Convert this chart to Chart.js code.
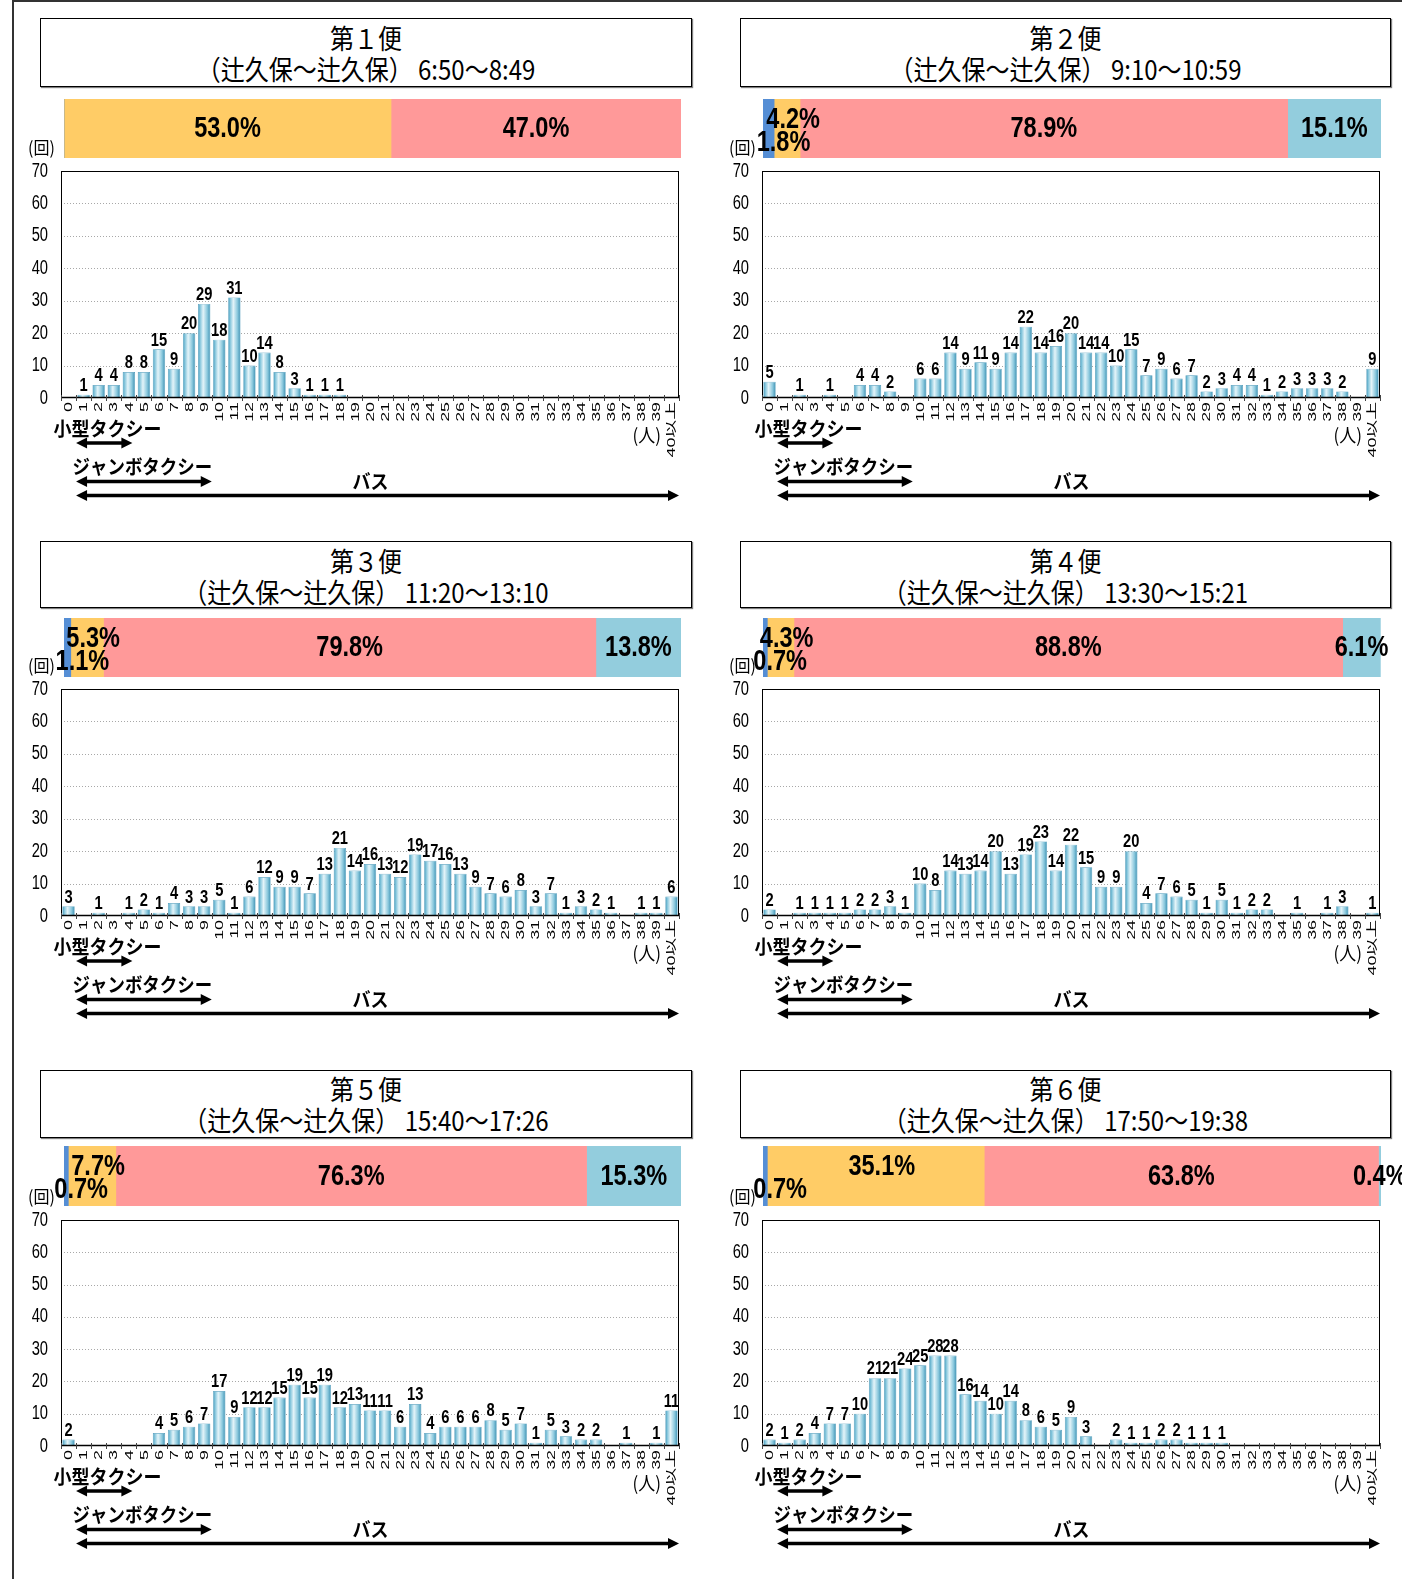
<!DOCTYPE html>
<html lang="ja">
<head>
<meta charset="utf-8">
<title>便別 乗車人数の分布</title>
<script src="https://cdn.jsdelivr.net/npm/chart.js@4.4.1/dist/chart.umd.min.js"></script>
<style>
html,body{margin:0;padding:0;background:#fff;overflow:hidden;}
body{width:1402px;height:1579px;position:relative;}
.frame{position:absolute;left:12px;top:0;width:1400px;height:1600px;border-left:2px solid #333;border-top:2px solid #333;}
.title{position:absolute;border:1px solid #000;box-shadow:1px 1px 1px rgba(0,0,0,.5);background:#fff;box-sizing:border-box;
  font-family:"Noto Sans CJK JP","Noto Sans CJK SC",sans-serif;font-size:24px;color:#000;}
.title .l{position:absolute;left:0;right:0;text-align:center;white-space:nowrap;line-height:24px;height:24px;transform:scaleY(1.15);}
canvas{position:absolute;}
</style>
</head>
<body>
<div class="frame"></div>
<script>
// 乗車人数の階級（人）
const AGE_LABELS = ['0','1','2','3','4','5','6','7','8','9','10','11','12','13','14','15','16','17','18','19',
  '20','21','22','23','24','25','26','27','28','29','30','31','32','33','34','35','36','37','38','39','40以上'];
const Y_TICKS = [0, 10, 20, 30, 40, 50, 60, 70];

// 便ごとの見出し
const TRIP_NAMES = ['第１便', '第２便', '第３便', '第４便', '第５便', '第６便'];
const TRIP_ROUTES = [
  '（辻久保～辻久保） 6:50～8:49',
  '（辻久保～辻久保） 9:10～10:59',
  '（辻久保～辻久保） 11:20～13:10',
  '（辻久保～辻久保） 13:30～15:21',
  '（辻久保～辻久保） 15:40～17:26',
  '（辻久保～辻久保） 17:50～19:38'
];

// 乗車人数別の運行回数（回）
const RIDERS_1 = [0,1,4,4,8,8,15,9,20,29,18,31,10,14,8,3,1,1,1,0,0,0,0,0,0,0,0,0,0,0,0,0,0,0,0,0,0,0,0,0,0];
const RIDERS_2 = [5,0,1,0,1,0,4,4,2,0,6,6,14,9,11,9,14,22,14,16,20,14,14,10,15,7,9,6,7,2,3,4,4,1,2,3,3,3,2,0,9];
const RIDERS_3 = [3,0,1,0,1,2,1,4,3,3,5,1,6,12,9,9,7,13,21,14,16,13,12,19,17,16,13,9,7,6,8,3,7,1,3,2,1,0,1,1,6];
const RIDERS_4 = [2,0,1,1,1,1,2,2,3,1,10,8,14,13,14,20,13,19,23,14,22,15,9,9,20,4,7,6,5,1,5,1,2,2,0,1,0,1,3,0,1];
const RIDERS_5 = [2,0,0,0,0,0,4,5,6,7,17,9,12,12,15,19,15,19,12,13,11,11,6,13,4,6,6,6,8,5,7,1,5,3,2,2,0,1,0,1,11];
const RIDERS_6 = [2,1,2,4,7,7,10,21,21,24,25,28,28,16,14,10,14,8,6,5,9,3,0,2,1,1,2,2,1,1,1,0,0,0,0,0,0,0,0,0,0];

// 構成比（％）：青・黄・赤・水色の順
const SHARE_1 = [0, 53.0, 47.0, 0];
const SHARE_2 = [1.8, 4.2, 78.9, 15.1];
const SHARE_3 = [1.1, 5.3, 79.8, 13.8];
const SHARE_4 = [0.7, 4.3, 88.8, 6.1];
const SHARE_5 = [0.7, 7.7, 76.3, 15.3];
const SHARE_6 = [0.7, 35.1, 63.8, 0.4];
const SHARE_COLORS = ['#558ED5', '#FFCC66', '#FF9999', '#93CDDD'];

// 車両ごとの対応人数（人）
const SMALL_TAXI_RANGE = [1, 4];
const JUMBO_TAXI_RANGE = [1, 9];
const BUS_RANGE = [1, 40];

const RIDERS = [RIDERS_1, RIDERS_2, RIDERS_3, RIDERS_4, RIDERS_5, RIDERS_6];
const SHARES = [SHARE_1, SHARE_2, SHARE_3, SHARE_4, SHARE_5, SHARE_6];

// レイアウト（px）
const COLS = [
  { title: [40, 692], bar: [64, 681], plot: [61, 679] },
  { title: [740, 1391], bar: [763, 1381], plot: [762, 1380] }
];
const ROWS = [
  { title: [18, 87], bar: [99, 158], plot: [171, 398] },
  { title: [541, 608], bar: [618, 677], plot: [689, 916] },
  { title: [1070, 1138], bar: [1146, 1206], plot: [1220, 1446] }
];

const NUM_FONT = '"Liberation Sans","Noto Sans CJK JP",sans-serif';
const JP_FONT = '"Noto Sans CJK JP","Noto Sans CJK SC",sans-serif';

function drawText(ctx, str, x, y, font, align, sx, sy, rot) {
  ctx.save();
  ctx.translate(x, y);
  if (rot) ctx.rotate(rot);
  ctx.scale(sx, sy);
  ctx.font = font;
  ctx.textAlign = align;
  ctx.textBaseline = 'middle';
  ctx.fillStyle = '#000';
  ctx.fillText(str, 0, 0);
  ctx.restore();
}

function drawArrow(ctx, x1, x2, y) {
  const hl = 11, hw = 5.5;
  ctx.save();
  ctx.fillStyle = '#000';
  ctx.strokeStyle = '#000';
  ctx.lineWidth = 3.5;
  ctx.beginPath(); ctx.moveTo(x1 + hl - 1, y); ctx.lineTo(x2 - hl + 1, y); ctx.stroke();
  ctx.beginPath(); ctx.moveTo(x1, y); ctx.lineTo(x1 + hl, y - hw); ctx.lineTo(x1 + hl, y + hw); ctx.closePath(); ctx.fill();
  ctx.beginPath(); ctx.moveTo(x2, y); ctx.lineTo(x2 - hl, y - hw); ctx.lineTo(x2 - hl, y + hw); ctx.closePath(); ctx.fill();
  ctx.restore();
}

// 円柱風のグラデーションで棒を塗る
function barFill(c) {
  const chart = c.chart;
  const xs = chart.scales && chart.scales.x;
  if (!xs || c.type !== 'data' || !chart.chartArea) return '#7fc0d6';
  const cx = xs.getPixelForValue(c.dataIndex);
  const w = (xs.width / AGE_LABELS.length) * 0.82;
  const g = chart.ctx.createLinearGradient(cx - w / 2, 0, cx + w / 2, 0);
  g.addColorStop(0, '#3a92b4');
  g.addColorStop(0.14, '#7cc1d9');
  g.addColorStop(0.42, '#e4f4f9');
  g.addColorStop(0.75, '#8ac8dd');
  g.addColorStop(1, '#3b8fb1');
  return g;
}

const histPlugin = {
  id: 'histDecor',
  beforeDatasetsDraw(chart) {
    const { ctx, chartArea: a, scales: { y } } = chart;
    ctx.save();
    ctx.strokeStyle = '#a8a8a8';
    ctx.lineWidth = 1;
    ctx.setLineDash([1, 2]);
    Y_TICKS.forEach(v => {
      if (v === 0 || v === 70) return;
      const py = Math.round(y.getPixelForValue(v)) + 0.5;
      ctx.beginPath(); ctx.moveTo(a.left, py); ctx.lineTo(a.right, py); ctx.stroke();
    });
    ctx.restore();
  },
  afterDatasetsDraw(chart) {
    const { ctx, chartArea: a, scales: { x, y } } = chart;
    const values = chart.data.datasets[0].data;
    // 枠
    ctx.save();
    ctx.strokeStyle = '#000';
    ctx.lineWidth = 1;
    ctx.strokeRect(a.left + 0.5, a.top + 0.5, a.right - a.left - 1, a.bottom - a.top - 1);
    ctx.lineWidth = 1.5;
    ctx.beginPath(); ctx.moveTo(a.left, a.bottom - 0.5); ctx.lineTo(a.right, a.bottom - 0.5); ctx.stroke();
    // 目盛り
    ctx.lineWidth = 1;
    ctx.strokeStyle = '#444';
    for (let i = 0; i <= AGE_LABELS.length; i++) {
      const px = Math.round(x.getPixelForValue(i - 0.5)) + 0.5;
      ctx.beginPath(); ctx.moveTo(px, a.bottom - 3); ctx.lineTo(px, a.bottom + 3); ctx.stroke();
    }
    ctx.restore();
    // 縦軸ラベル
    Y_TICKS.forEach(v => {
      drawText(ctx, String(v), a.left - 13, y.getPixelForValue(v), '16px ' + NUM_FONT, 'right', 0.92, 1.25);
    });
    // 横軸ラベル（縦書き回転）
    AGE_LABELS.forEach((lab, i) => {
      drawText(ctx, lab, x.getPixelForValue(i) + 0.5, a.bottom + 4, '11.5px ' + NUM_FONT, 'right', 1.55, 1, -Math.PI / 2);
    });
    // 値ラベル
    const meta = chart.getDatasetMeta(0);
    meta.data.forEach((bar, i) => {
      const v = values[i];
      if (!v) return;
      drawText(ctx, String(v), bar.x, bar.y - 9, 'bold 16px ' + NUM_FONT, 'center', 0.92, 1.2);
    });
    // 単位
    drawText(ctx, '(回)', a.left - 33, a.top - 24, '16px ' + JP_FONT, 'left', 1, 1.1);
    drawText(ctx, '(人)', a.right - 18, a.bottom + 37, '17px ' + JP_FONT, 'right', 1, 1.1);
    // 車両区分の矢印
    const edgeL = r => x.getPixelForValue(r[0] - 0.5);
    const edgeR = r => x.getPixelForValue(r[1] + 0.5);
    drawText(ctx, '小型タクシー', a.left - 7.5, a.bottom + 30, 'bold 18px ' + JP_FONT, 'left', 1, 1.1);
    drawArrow(ctx, edgeL(SMALL_TAXI_RANGE), edgeR(SMALL_TAXI_RANGE) - 4, a.bottom + 45);
    drawText(ctx, 'ジャンボタクシー', a.left + 11.5, a.bottom + 68, 'bold 18px ' + JP_FONT, 'left', 0.97, 1.1);
    drawArrow(ctx, edgeL(JUMBO_TAXI_RANGE), edgeR(JUMBO_TAXI_RANGE), a.bottom + 83.5);
    const busL = edgeL(BUS_RANGE), busR = edgeR(BUS_RANGE);
    drawText(ctx, 'バス', (busL + busR) / 2 - 7, a.bottom + 83, 'bold 18px ' + JP_FONT, 'center', 1, 1.1);
    drawArrow(ctx, busL, busR, a.bottom + 97.5);
  }
};

const sharePlugin = {
  id: 'shareLabels',
  afterDatasetsDraw(chart) {
    const { ctx, chartArea: a } = chart;
    const vals = chart.data.datasets.map(d => d.data[0]);
    const hasBlue = vals[0] > 0;
    const mid = (a.top + a.bottom) / 2 + 1;
    chart.data.datasets.forEach((d, i) => {
      const v = d.data[0];
      if (!v) return;
      const el = chart.getDatasetMeta(i).data[0];
      const l = Math.min(el.x, el.base), r = Math.max(el.x, el.base);
      const cx = (l + r) / 2;
      let px = cx, py = mid;
      if (i === 0) { px = cx + 15; py = a.top + 44; }
      else if (i === 1 && hasBlue) { px = cx + 6; py = a.top + 21; }
      drawText(ctx, v.toFixed(1) + '%', px, py, 'bold 24px ' + NUM_FONT, 'center', 0.98, 1.2);
    });
  }
};

function makeCanvas(left, top, w, h) {
  const c = document.createElement('canvas');
  c.width = w; c.height = h;
  c.style.left = left + 'px'; c.style.top = top + 'px';
  c.style.width = w + 'px'; c.style.height = h + 'px';
  document.body.appendChild(c);
  return c;
}

for (let k = 0; k < 6; k++) {
  const col = COLS[k % 2], row = ROWS[Math.floor(k / 2)];

  // 見出し枠
  const t = document.createElement('div');
  t.className = 'title';
  t.style.left = col.title[0] + 'px';
  t.style.top = row.title[0] + 'px';
  t.style.width = (col.title[1] - col.title[0]) + 'px';
  t.style.height = (row.title[1] - row.title[0]) + 'px';
  const l1 = document.createElement('div'); l1.className = 'l'; l1.style.top = '6px'; l1.textContent = TRIP_NAMES[k];
  const l2 = document.createElement('div'); l2.className = 'l'; l2.style.top = '37px'; l2.textContent = TRIP_ROUTES[k];
  t.appendChild(l1); t.appendChild(l2);
  document.body.appendChild(t);

  // 構成比の帯グラフ
  const padL = 20, padR = 30;
  const bw = col.bar[1] - col.bar[0], bh = row.bar[1] - row.bar[0];
  const sc = makeCanvas(col.bar[0] - padL, row.bar[0], bw + padL + padR, bh);
  new Chart(sc, {
    type: 'bar',
    data: {
      labels: [''],
      datasets: SHARES[k].map((v, i) => ({
        data: [v], backgroundColor: SHARE_COLORS[i], borderWidth: 0,
        barPercentage: 1, categoryPercentage: 1
      }))
    },
    options: {
      indexAxis: 'y', responsive: false, animation: false, events: [],
      layout: { padding: { left: padL, right: padR, top: 0, bottom: 0 } },
      plugins: { legend: { display: false }, tooltip: { enabled: false } },
      scales: {
        x: { display: false, stacked: true, min: 0, max: 100 },
        y: { display: false, stacked: true }
      }
    },
    plugins: [sharePlugin]
  });

  // 乗車人数別の度数分布
  const pL = 47, pR = 14, pT = 35, pB = 110;
  const pw = col.plot[1] - col.plot[0], ph = row.plot[1] - row.plot[0];
  const hc = makeCanvas(col.plot[0] - pL, row.plot[0] - pT, pw + pL + pR, ph + pT + pB);
  new Chart(hc, {
    type: 'bar',
    data: {
      labels: AGE_LABELS,
      datasets: [{
        data: RIDERS[k], backgroundColor: barFill, borderColor: '#4f9aba', borderWidth: 0.6,
        categoryPercentage: 0.82, barPercentage: 1
      }]
    },
    options: {
      responsive: false, animation: false, events: [],
      layout: { padding: { left: pL, right: pR, top: pT, bottom: pB } },
      plugins: { legend: { display: false }, tooltip: { enabled: false } },
      scales: {
        x: { display: false, offset: true },
        y: { display: false, min: 0, max: 70 }
      }
    },
    plugins: [histPlugin]
  });
}
</script>
</body>
</html>
